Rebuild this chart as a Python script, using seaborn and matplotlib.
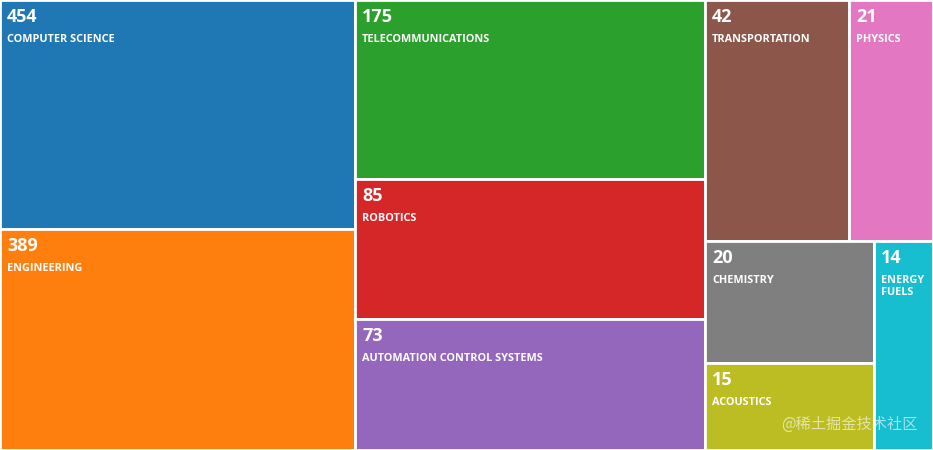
import matplotlib
matplotlib.use("Agg")
import matplotlib.pyplot as plt
import seaborn as sns
from matplotlib.patches import Rectangle

sns.set_theme(style="white")
plt.rcParams['font.family'] = ['Open Sans', 'DejaVu Sans']

categories = ["COMPUTER SCIENCE", "ENGINEERING", "TELECOMMUNICATIONS", "ROBOTICS",
              "AUTOMATION CONTROL SYSTEMS", "TRANSPORTATION", "PHYSICS", "CHEMISTRY",
              "ACOUSTICS", "ENERGY FUELS"]
counts = [454, 389, 175, 85, 73, 42, 21, 20, 15, 14]
# box areas (thousands of px^2)
areas = [81.3, 78.5, 62.7, 49.0, 45.9, 34.7, 20.2, 20.6, 14.7, 12.3]
colors = sns.color_palette("tab10", 10)

tree = ('h', [('v', [0, 1]), ('v', [2, 3, 4]),
              ('v', [('h', [5, 6]), ('h', [('v', [7, 8]), 9])])])

def total(n):
    return areas[n] if isinstance(n, int) else sum(total(c) for c in n[1])

fig = plt.figure(figsize=(9.33, 4.5), dpi=100)
ax = fig.add_axes([0, 0, 1, 1])
W, H = 933, 450
ax.set_xlim(0, W); ax.set_ylim(H, 0); ax.axis('off')

def layout(n, x, y, w, h):
    if isinstance(n, int):
        ax.add_patch(Rectangle((x, y), w, h, facecolor=colors[n], edgecolor='white', linewidth=2))
        lab = categories[n].replace(' ', '\n') if w < 80 else categories[n]
        ax.text(x + 7, y + 8, str(counts[n]), color='white', fontsize=13, fontweight='bold', va='top', ha='left')
        ax.text(x + 7, y + 34, lab, color='white', fontsize=7.8, fontweight='bold', va='top', ha='left', linespacing=1.1)
        return
    o, ch = n
    t = total(n); pos = 0
    for c in ch:
        f = total(c) / t
        if o == 'h':
            layout(c, x + pos * w, y, f * w, h)
        else:
            layout(c, x, y + pos * h, w, f * h)
        pos += f

layout(tree, 0, 0, W, H)
ax.text(918, 424, "@稀土掘金技术社区", color=(1, 1, 1, 0.6), fontsize=11, ha='right', va='center',
        family=['Noto Sans CJK SC', 'DejaVu Sans'])
fig.savefig("out.png", dpi=100)
